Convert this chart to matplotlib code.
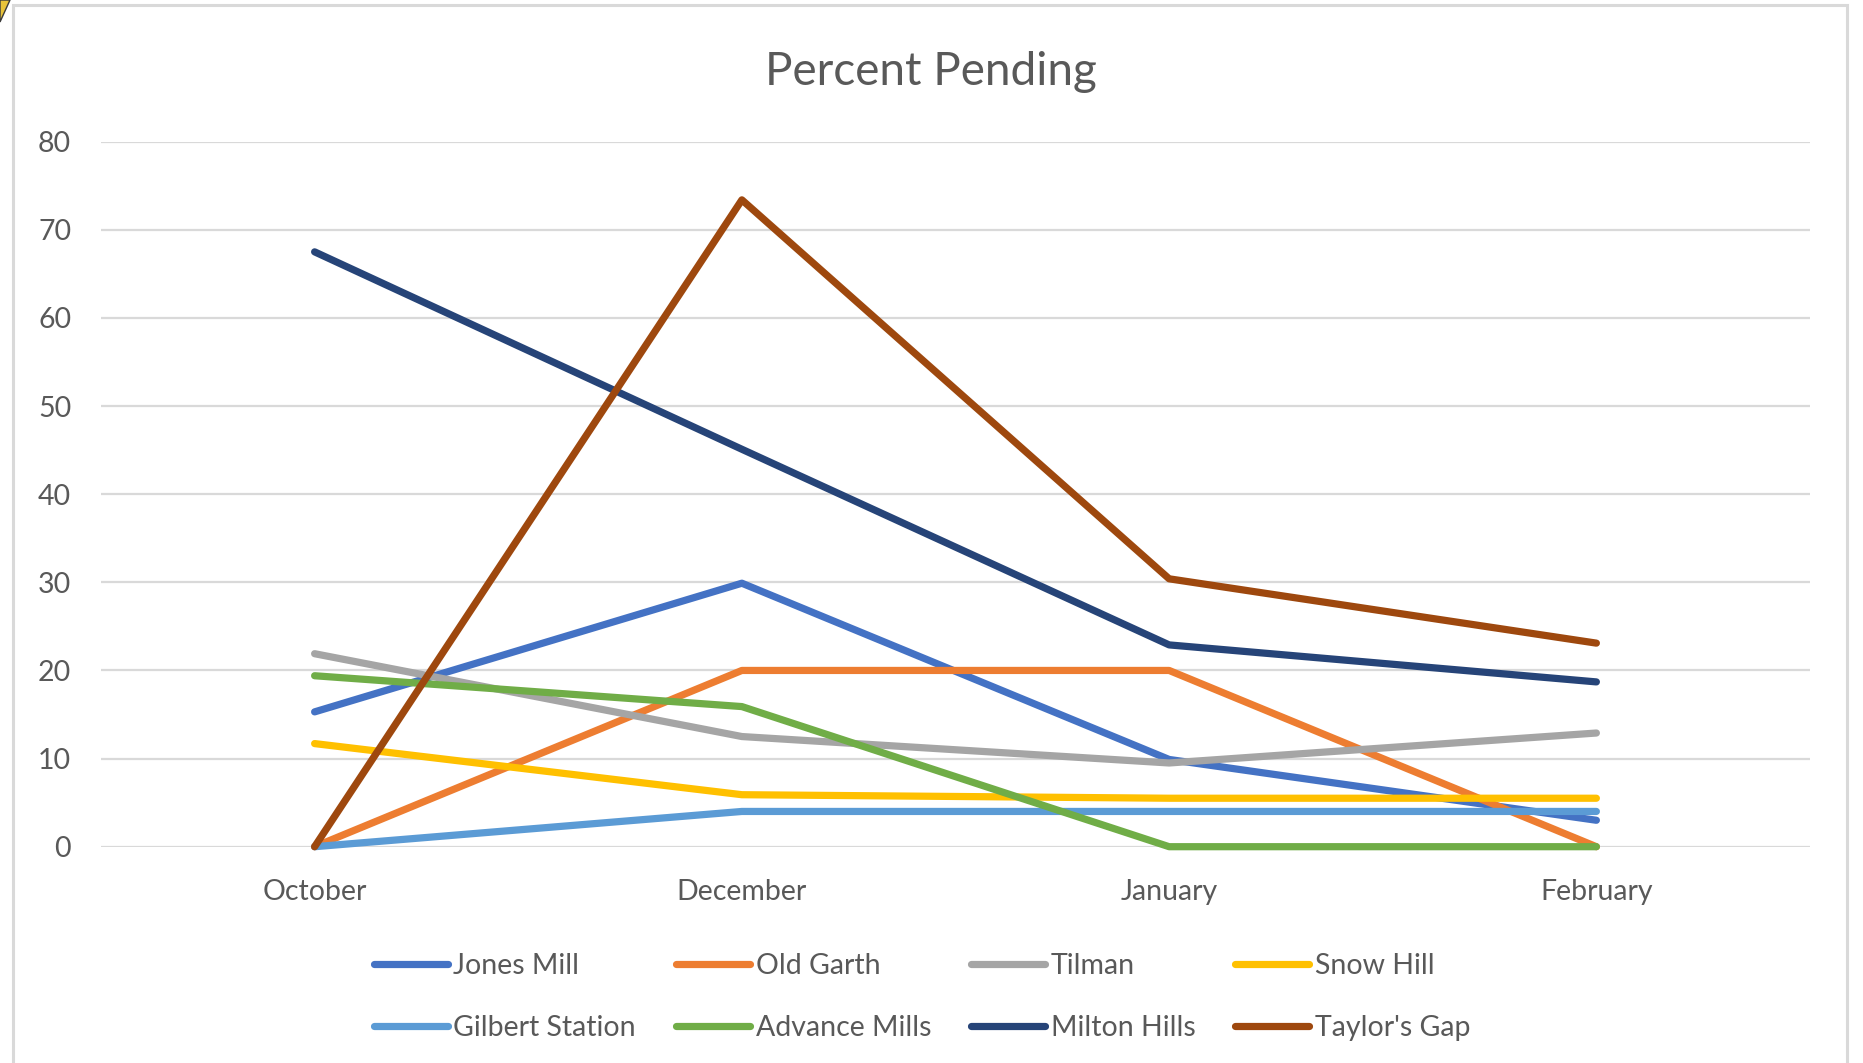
import matplotlib
matplotlib.use("Agg")
import matplotlib.pyplot as plt
from matplotlib.patches import Rectangle, Polygon
from matplotlib.lines import Line2D

months = ["October", "December", "January", "February"]
series_names = ["Jones Mill", "Old Garth", "Tilman", "Snow Hill",
                "Gilbert Station", "Advance Mills", "Milton Hills", "Taylor's Gap"]
jones_mill = [15.3, 29.9, 9.9, 3.0]
old_garth = [0, 20, 20, 0]
tilman = [21.9, 12.5, 9.5, 12.9]
snow_hill = [11.7, 5.9, 5.5, 5.5]
gilbert_station = [0, 4.0, 4.0, 4.0]
advance_mills = [19.4, 15.9, 0, 0]
milton_hills = [67.5, 45.1, 22.9, 18.7]
taylors_gap = [0, 73.4, 30.4, 23.1]
yticks = [0, 10, 20, 30, 40, 50, 60, 70, 80]

values = [jones_mill, old_garth, tilman, snow_hill,
          gilbert_station, advance_mills, milton_hills, taylors_gap]
colors = ["#4472C4", "#ED7D31", "#A5A5A5", "#FFC000",
          "#5B9BD5", "#70AD47", "#264478", "#9E480E"]

plt.rcParams['font.family'] = ['Lato', 'DejaVu Sans']
W, H = 1863, 1063
fig = plt.figure(figsize=(W / 100, H / 100), dpi=100)
fig.patch.set_facecolor("white")

LW = 5.2
ax = fig.add_axes([101 / W, 1 - 846.7 / H, (1810 - 101) / W, (846.7 - 141.7) / H])
x = list(range(len(months)))
for vals, c, name in zip(values, colors, series_names):
    ax.plot(x, vals, color=c, lw=LW, solid_capstyle="round",
            solid_joinstyle="round", clip_on=False, label=name, zorder=3)

ax.set_xlim(-0.5, 3.5)
ax.set_ylim(0, 80)
ax.set_yticks(yticks)
ax.set_xticks(x)
ax.set_xticklabels(months)
ax.grid(axis="y", color="#D9D9D9", lw=1.6, zorder=0)
ax.set_axisbelow(True)
for s in ax.spines.values():
    s.set_visible(False)
ax.tick_params(axis="both", length=0, labelsize=20.5, labelcolor="#595959")
ax.tick_params(axis="y", pad=21.5)
ax.tick_params(axis="x", pad=23)

fig.text(931 / W, 1 - 72 / H, "Percent Pending", ha="center", va="center",
         fontsize=33, color="#595959")

handles = [Line2D([0], [0], color=c, lw=LW, solid_capstyle="round") for c in colors]
order = [0, 4, 1, 5, 2, 6, 3, 7]
leg = fig.legend([handles[i] for i in order], [series_names[i] for i in order],
                 loc="center", ncol=4,
                 bbox_to_anchor=(922 / W, 1 - 997 / H), frameon=False,
                 fontsize=20.5, labelcolor="#595959", handlelength=2.6,
                 handletextpad=0.2, columnspacing=1.4, labelspacing=1.25,
                 borderpad=0, borderaxespad=0)

# chart border
fig.patches.append(Rectangle((13 / W, -0.01), (1847 - 13) / W, (1 - 5 / H) + 0.01,
                             transform=fig.transFigure, fill=False,
                             edgecolor="#D9D9D9", lw=2.2, zorder=0))
# small corner artifact
fig.patches.append(Polygon([(0, 1), (10 / W, 1), (0, 1 - 22 / H)],
                           closed=True, transform=fig.transFigure,
                           facecolor="#E8C33A", edgecolor="#3a3a3a", lw=1))

fig.savefig("out.png", dpi=100, facecolor="white")
